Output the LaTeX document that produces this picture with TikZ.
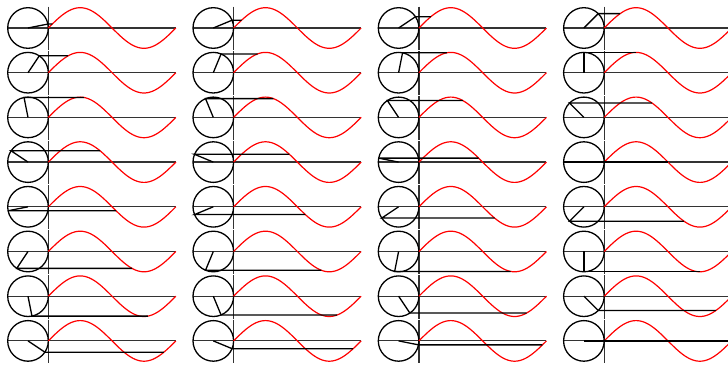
\documentclass[tikz,border=0pt]{standalone}
\begin{document}
\begin{tikzpicture}[x=0.5pt, y=0.5pt,
  wheel/.style={draw=black, line width=0.65pt},
  axisline/.style={draw=black!80, line width=0.6pt},
  spoke/.style={draw=black, line width=0.65pt},
  wave/.style={draw=red, line width=0.6pt}]
\useasboundingbox (0,0) rectangle (728,364);
\def\wheelr{20.3}
% one frame per step of 11.25 degrees, read row by row
\foreach \row in {0,...,7}{
  \foreach \col in {0,...,3}{
    \pgfmathsetmacro\ang{(4*\row+\col+1)*11.25}
    \begin{scope}[shift={(28+185.3*\col, 336-44.7*\row)}]
      \coordinate (c) at (0,0);
      \coordinate (tip) at (\ang:\wheelr);
      \coordinate (hit) at ({\wheelr+\ang*pi/180*\wheelr}, {\wheelr*sin(\ang)});
      \draw[axisline] (-\wheelr,0) -- ({\wheelr+2*pi*\wheelr},0);
      \draw[axisline] (\wheelr,{1.05*\wheelr}) -- (\wheelr,{-1.1*\wheelr});
      \draw[wheel] (c) circle (\wheelr);
      \draw[wave] plot[domain=0:360, samples=73] ({\wheelr+\x*pi/180*\wheelr},{\wheelr*sin(\x)});
      \draw[spoke] (c) -- (tip) -- (hit);
    \end{scope}
  }
}
\end{tikzpicture}
\end{document}
